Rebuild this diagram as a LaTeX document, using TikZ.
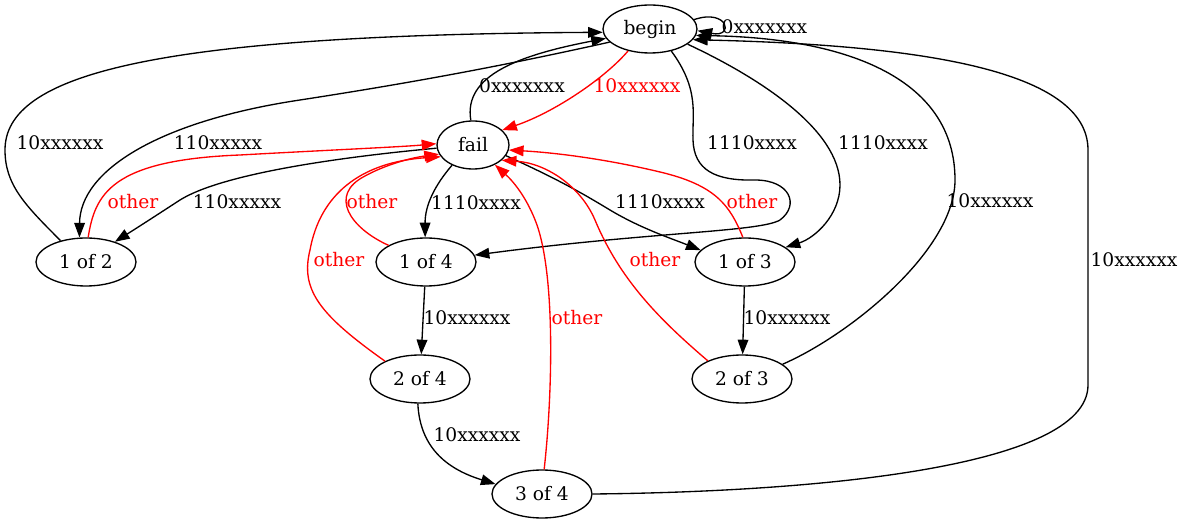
\documentclass[tikz,border=0pt]{standalone}
\usepackage{fontspec}
\setmainfont{DejaVu Serif}
\usetikzlibrary{arrows.meta,shapes.geometric}

\begin{document}
\begin{tikzpicture}[x=0.75pt,y=-0.75pt,
	every node/.style={font=\fontsize{14pt}{16pt}\selectfont},
	state/.style={draw,ellipse,line width=1pt,inner sep=0pt,minimum height=36pt,minimum width=75pt},
	edge/.style={line width=1pt,-{Triangle[length=11pt,width=8pt]}},
	failedge/.style={edge,red},
	lbl/.style={inner sep=0pt}]
\useasboundingbox (0,0) rectangle (1185,523);

\node[state,minimum width=70.5pt] (begin) at (650,29) {begin};
\node[state,minimum width=54pt] (fail) at (473,145) {fail};
\node[state] (one2) at (86,262) {1 of 2};
\node[state] (one4) at (426,262) {1 of 4};
\node[state] (one3) at (745,262) {1 of 3};
\node[state] (two4) at (420,379) {2 of 4};
\node[state] (two3) at (742,379) {2 of 3};
\node[state] (three4) at (542,494) {3 of 4};

\draw[edge] (begin.12) .. controls (728,8) and (735,38) .. (begin.-2) node[lbl,anchor=west] at (721,27) {0xxxxxxx};
\draw[failedge] (begin.225) .. controls (605,78) and (555,112) .. (fail.27) node[lbl,red] at (637,86) {10xxxxxx};
\draw[edge] (fail.95) .. controls (463,75) and (520,55) .. (begin.192) node[lbl] at (522,86) {0xxxxxxx};
\draw[edge] (one2.140) .. controls (25,205) and (5,185) .. (5,150) .. controls (5,75) and (150,35) .. (begin.184) node[lbl] at (60,143) {10xxxxxx};
\draw[edge] (begin.198) .. controls (520,62) and (430,80) .. (300,100) .. controls (160,121) and (80,170) .. (one2.105) node[lbl] at (218,143) {110xxxxx};
\draw[edge] (fail.185) .. controls (330,158) and (220,175) .. (180,200) .. controls (160,213) and (140,226) .. (one2.35) node[lbl] at (237,202) {110xxxxx};
\draw[failedge] (one2.85) .. controls (95,195) and (110,160) .. (240,155) .. controls (330,150) and (400,147) .. (fail.178) node[lbl,red] at (133,202) {other};
\draw[failedge] (one4.156) .. controls (350,228) and (328,195) .. (365,176) .. controls (385,165) and (410,158) .. (fail.195) node[lbl,red] at (372,202) {other};
\draw[failedge] (two4.153) .. controls (320,315) and (300,290) .. (310,250) .. controls (320,195) and (360,162) .. (fail.200) node[lbl,red] at (339,260) {other};
\draw[edge] (fail.224) .. controls (435,185) and (425,205) .. (one4.92) node[lbl] at (476,203) {1110xxxx};
\draw[edge] (begin.314) .. controls (700,90) and (692,115) .. (693,140) .. controls (694,170) and (715,181) .. (755,180) .. controls (790,180) and (800,205) .. (780,220) .. controls (760,232) and (650,232) .. (one4.8) node[lbl] at (752,143) {1110xxxx};
\draw[edge] (begin.338) .. controls (760,78) and (840,130) .. (840,185) .. controls (840,215) and (815,238) .. (one3.20) node[lbl] at (883,143) {1110xxxx};
\draw[edge] (fail.-18) .. controls (560,180) and (585,195) .. (610,210) .. controls (640,228) and (670,238) .. (one3.165) node[lbl] at (660,202) {1110xxxx};
\draw[failedge] (one3.95) .. controls (730,205) and (715,185) .. (660,172) .. controls (610,160) and (560,153) .. (fail.-8) node[lbl,red] at (752,202) {other};
\draw[failedge] (two3.152) .. controls (660,320) and (620,280) .. (595,220) .. controls (580,185) and (545,163) .. (fail.-28) node[lbl,red] at (655,260) {other};
\draw[failedge] (three4.85) .. controls (552,400) and (556,280) .. (537,225) .. controls (528,200) and (515,183) .. (fail.-42) node[lbl,red] at (577,318) {other};
\draw[edge] (one4) -- (two4) node[lbl] at (467,318) {10xxxxxx};
\draw[edge] (two4.265) .. controls (420,450) and (450,470) .. (three4.168) node[lbl] at (477,435) {10xxxxxx};
\draw[edge] (one3) -- (two3) node[lbl] at (787,318) {10xxxxxx};
\draw[edge] (two3.20) .. controls (850,335) and (955,250) .. (955,180) .. controls (955,80) and (850,38) .. (begin.-8) node[lbl] at (990,201) {10xxxxxx};
\draw[edge] (three4.0) .. controls (800,492) and (1088,470) .. (1088,385) -- (1088,150) .. controls (1088,70) and (920,45) .. (begin.-14) node[lbl] at (1134,260) {10xxxxxx};

\end{tikzpicture}
\end{document}
